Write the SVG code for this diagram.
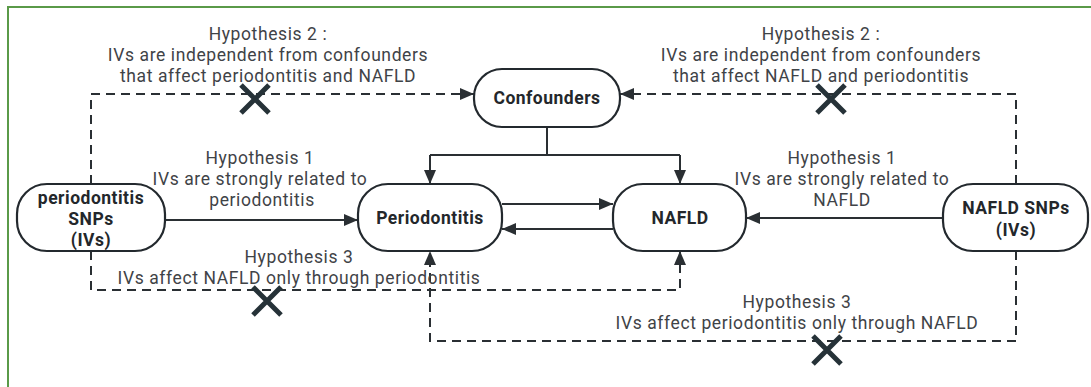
<svg xmlns="http://www.w3.org/2000/svg" width="1091" height="387" viewBox="0 0 1091 387">
<style>
.bg{fill:#ffffff}
.frame{fill:none;stroke:#5a9a48;stroke-width:2}
.node{fill:#ffffff;stroke:#23292e;stroke-width:2.2}
.nt{font-family:Roboto,"Open Sans",sans-serif;font-weight:bold;font-size:17.5px;letter-spacing:0.5px;fill:#23272b;text-anchor:middle}
.lbl{font-family:Roboto,"Open Sans",sans-serif;font-size:17.5px;letter-spacing:0.6px;fill:#3f4347;text-anchor:middle}
.solid{fill:none;stroke:#2a2f33;stroke-width:2}
.dash{fill:none;stroke:#2a2f33;stroke-width:2;stroke-dasharray:9 6}
.x{stroke:#263238;stroke-width:5;stroke-linecap:butt}
</style>
<defs>
<marker id="ah" viewBox="0 0 14 12" refX="14" refY="6" markerWidth="14" markerHeight="12" markerUnits="userSpaceOnUse" orient="auto">
<path d="M0,0 L14,6 L0,12 z" fill="#2a2f33"/>
</marker>
</defs>
<rect class="bg" x="0" y="0" width="1091" height="387"/>
<path class="frame" d="M8,387 V7 H1091"/>

<g id="connectors">
<path class="solid" d="M165,220 H358" marker-end="url(#ah)"/>
<path class="solid" d="M502,204 H613" marker-end="url(#ah)"/>
<path class="solid" d="M613,229 H502" marker-end="url(#ah)"/>
<path class="solid" d="M943,218 H746" marker-end="url(#ah)"/>
<path class="solid" d="M547,127 V155"/>
<path class="solid" d="M430,155 H680"/>
<path class="solid" d="M430,155 V184" marker-end="url(#ah)"/>
<path class="solid" d="M680,155 V184" marker-end="url(#ah)"/>
<path class="dash" d="M91,184 V94 H474" marker-end="url(#ah)"/>
<path class="dash" d="M1016,184 V94 H620" marker-end="url(#ah)"/>
<path class="dash" d="M91,251 V290 H680 V251" marker-end="url(#ah)"/>
<path class="dash" d="M1016,251 V341 H430 V251" marker-end="url(#ah)"/>
</g>

<g id="crosses">
<path class="x" d="M241,85 L269,113 M269,85 L241,113"/>
<path class="x" d="M817,85 L845,113 M845,85 L817,113"/>
<path class="x" d="M253,287 L281,315 M281,287 L253,315"/>
<path class="x" d="M813,336 L841,364 M841,336 L813,364"/>
</g>

<g id="labels">
<text class="lbl"><tspan x="268" y="40">Hypothesis 2 :</tspan><tspan x="268" y="61">IVs are independent from confounders</tspan><tspan x="268" y="82">that affect periodontitis and NAFLD</tspan></text>
<text class="lbl"><tspan x="821" y="40">Hypothesis 2 :</tspan><tspan x="821" y="61">IVs are independent from confounders</tspan><tspan x="821" y="82">that affect NAFLD and periodontitis</tspan></text>
<text class="lbl"><tspan x="260" y="164">Hypothesis 1</tspan><tspan x="260" y="185">IVs are strongly related to</tspan><tspan x="262" y="206">periodontitis</tspan></text>
<text class="lbl"><tspan x="842" y="164">Hypothesis 1</tspan><tspan x="842" y="185">IVs are strongly related to</tspan><tspan x="842" y="206">NAFLD</tspan></text>
<text class="lbl"><tspan x="299" y="263">Hypothesis 3</tspan><tspan x="299" y="284">IVs affect NAFLD only through periodontitis</tspan></text>
<text class="lbl"><tspan x="797" y="308">Hypothesis 3</tspan><tspan x="797" y="329">IVs affect periodontitis only through NAFLD</tspan></text>
</g>

<g id="node-confounders">
<rect class="node" x="474" y="69" width="146" height="58" rx="28" ry="28"/>
<text class="nt" x="547" y="104">Confounders</text>
</g>
<g id="node-periodontitis-snps">
<rect class="node" x="17" y="184" width="148" height="67" rx="30" ry="30"/>
<text class="nt"><tspan x="91" y="204">periodontitis</tspan><tspan x="91" y="225">SNPs</tspan><tspan x="91" y="246">(IVs)</tspan></text>
</g>
<g id="node-periodontitis">
<rect class="node" x="358" y="184" width="144" height="67" rx="30" ry="30"/>
<text class="nt" x="430" y="224">Periodontitis</text>
</g>
<g id="node-nafld">
<rect class="node" x="613" y="184" width="133" height="67" rx="30" ry="30"/>
<text class="nt" x="680" y="224">NAFLD</text>
</g>
<g id="node-nafld-snps">
<rect class="node" x="943" y="184" width="145" height="67" rx="30" ry="30"/>
<text class="nt"><tspan x="1016" y="214">NAFLD SNPs</tspan><tspan x="1016" y="236">(IVs)</tspan></text>
</g>
</svg>
